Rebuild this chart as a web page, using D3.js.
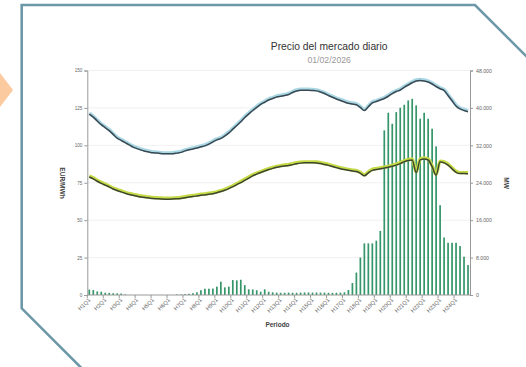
<!DOCTYPE html>
<html><head><meta charset="utf-8">
<script src="https://cdn.jsdelivr.net/npm/d3@7"></script>
<style>html,body{margin:0;padding:0;background:#fff;} svg{display:block;font-family:"Liberation Sans",Arial,sans-serif;}</style>
</head><body><svg id="c" width="526" height="367"></svg>
<script>
const hours = [1,2,3,4,5,6,7,8,9,10,11,12,13,14,15,16,17,18,19,20,21,22,23,24];
const quarters = ["Q1","Q2","Q3","Q4"];
const tickLabels = ["H1Q1","H2Q1","H3Q1","H4Q1","H5Q1","H6Q1","H7Q1","H8Q1","H9Q1","H10Q1","H11Q1","H12Q1",
  "H13Q1","H14Q1","H15Q1","H16Q1","H17Q1","H18Q1","H19Q1","H20Q1","H21Q1","H22Q1","H23Q1","H24Q1"];
const leftTicks = [0,25,50,75,100,125,150];
const rightTicks = [0,8000,16000,24000,32000,40000,48000];

// Precio (EUR/MWh), bars
const priceEUR = [3.6,3.3,2.4,2.2,1.5,1.4,1.2,1.1,1.0,0.4,0,0,
  0,0,0,0,0,0,0,0,0,0,0.4,0.4,
  0.6,0.8,1.2,1.8,3.2,4.2,4.2,4.3,5.6,8.9,5.1,5.6,
  10,9.8,10.2,6.6,3.8,3.7,3.2,2.2,3.8,2.2,1.8,1.6,
  1.5,1.5,1.6,1.5,1.5,1.6,1.7,1.7,1.6,1.7,1.6,1.6,
  1.5,1.4,1.5,1.6,1.8,3.3,8,15,25,34.5,34.5,34.5,
  36.3,42.8,110,121.8,114.4,122.2,125.1,127.1,130,131.1,126.7,117.8,
  121.8,117.8,111.1,99.3,60,38.4,34.9,34.9,34.9,32.7,25.6,20];

// Upper line (MW)
const upperMW = [38720,38080,37280,36480,35840,35200,34400,33600,33120,32640,32160,31680,
  31360,31040,30820,30620,30460,30400,30300,30240,30240,30270,30400,30560,
  30880,31100,31300,31490,31740,31940,32320,32800,33220,33540,34080,34720,
  35520,36320,37120,38020,38780,39520,40160,40800,41280,41760,42080,42400,
  42560,42720,42940,43360,43680,43840,43840,43840,43780,43710,43460,43140,
  42720,42340,41980,41660,41340,41060,40900,40740,40160,39520,40320,41120,
  41440,41760,42080,42560,43140,43580,43900,44480,44960,45440,45820,45920,
  45820,45600,45180,44640,44160,43780,42720,41600,40480,39840,39520,39260];

// Lower line (MW)
const lowerMW = [25280,24900,24380,23940,23550,23170,22720,22400,22110,21820,21570,21380,
  21180,21020,20900,20800,20700,20640,20580,20540,20540,20580,20640,20700,
  20860,21020,21120,21250,21380,21470,21600,21730,21920,22180,22460,22820,
  23230,23680,24100,24580,25060,25540,25920,26240,26560,26880,27140,27360,
  27520,27650,27740,27940,28130,28260,28320,28320,28320,28290,28160,27970,
  27780,27520,27300,27070,26880,26720,26560,26460,26080,25540,26180,26720,
  26880,27040,27200,27360,27580,27840,28160,28540,28800,28930,26180,28960,
  29120,28930,27520,25660,28480,28320,27840,27040,26300,26020,26020,25980];

const categories = hours.flatMap(h => quarters.map(q => "H" + h + q));

const svg = d3.select("#c");

// decorative frame
svg.append("polygon").attr("points","0,73 13,90 0,107").attr("fill","#fcca9f");
svg.append("path").attr("d","M545,75 L475,5 L21.7,5 L21.7,308.3 L85,371.6")
  .attr("fill","none").attr("stroke","#6d98a8").attr("stroke-width",2.6);

const L = 87.3, R = 470, T = 70.5, B = 295;
const x = d3.scaleBand().domain(categories).range([L, R]).padding(0);
const yL = d3.scaleLinear().domain([0,150]).range([B, T]);
const yR = d3.scaleLinear().domain([0,48000]).range([B, T]);
const loc = d3.formatLocale({decimal: ",", thousands: ".", grouping: [3], currency: ["", ""]});
const fmtR = loc.format(",");

// gridlines
svg.append("g").selectAll("line").data(leftTicks.filter(d => d > 0)).join("line")
  .attr("x1", L).attr("x2", R).attr("y1", d => yL(d)).attr("y2", d => yL(d))
  .attr("stroke", "#ececec").attr("stroke-width", 0.8);

// bars
const bw = 1.7;
svg.append("g").selectAll("rect").data(priceEUR).join("rect")
  .attr("x", (d,i) => x(categories[i]) + x.bandwidth()/2 - bw/2)
  .attr("width", bw)
  .attr("y", d => yL(d))
  .attr("height", d => B - yL(d))
  .attr("fill", "#35966a");

// lines
const lineGen = d3.line().x((d,i) => x(categories[i]) + x.bandwidth()/2).y(d => yR(d)).curve(d3.curveMonotoneX);
function glowLine(data, halo, core) {
  svg.append("path").attr("d", lineGen(data)).attr("fill","none")
    .attr("stroke", halo).attr("stroke-width", 3.4).attr("stroke-linejoin","round")
    .attr("transform","translate(0,-0.7)");
  svg.append("path").attr("d", lineGen(data)).attr("fill","none")
    .attr("stroke", core).attr("stroke-width", 1.5).attr("stroke-linejoin","round")
    .attr("transform","translate(0,0.3)");
}
glowLine(upperMW, "#a9d7e4", "#3a4852");
glowLine(lowerMW, "#c6da45", "#3a4530");

// axes
const axisColor = "#999";
const gl = svg.append("g").attr("transform", `translate(${L},0)`)
  .call(d3.axisLeft(yL).tickValues(leftTicks).tickSize(3).tickPadding(2));
gl.selectAll("text").attr("font-size", 4.6).attr("fill", "#666").attr("font-family", "Liberation Sans, Arial, sans-serif");
gl.selectAll("line,path").attr("stroke", axisColor);

const gr = svg.append("g").attr("transform", `translate(${R},0)`)
  .call(d3.axisRight(yR).tickValues(rightTicks).tickSize(3).tickPadding(3).tickFormat(fmtR));
gr.selectAll("text").attr("font-size", 5.2).attr("fill", "#666").attr("font-family", "Liberation Sans, Arial, sans-serif");
gr.selectAll("line,path").attr("stroke", axisColor);

// bottom axis
svg.append("line").attr("x1", L).attr("x2", R).attr("y1", B).attr("y2", B).attr("stroke", axisColor);
svg.append("g").selectAll("line").data(tickLabels).join("line")
  .attr("x1", d => x(d)).attr("x2", d => x(d)).attr("y1", B).attr("y2", B + 3)
  .attr("stroke", axisColor);
svg.append("g").selectAll("text").data(tickLabels).join("text")
  .attr("transform", d => `translate(${x(d) + 2},${B + 4}) rotate(-45)`)
  .attr("text-anchor", "end").attr("dy", "0.35em")
  .attr("font-size", 5.6).attr("fill", "#606060").text(d => d);

// titles
svg.append("text").attr("x", 329.2).attr("y", 50).attr("text-anchor","middle")
  .attr("font-size", 10.3).attr("fill", "#333").text("Precio del mercado diario");
svg.append("text").attr("x", 329.2).attr("y", 63.3).attr("text-anchor","middle")
  .attr("font-size", 8.7).attr("fill", "#999").text("01/02/2026");
svg.append("text").attr("transform", "translate(60,183) rotate(90)").attr("text-anchor","middle")
  .attr("font-size", 6.6).attr("font-weight","bold").attr("fill","#444").text("EUR/MWh");
svg.append("text").attr("transform", "translate(503.5,183) rotate(90)").attr("text-anchor","middle")
  .attr("font-size", 6.6).attr("font-weight","bold").attr("fill","#444").text("MW");
svg.append("text").attr("x", 277.5).attr("y", 327).attr("text-anchor","middle")
  .attr("font-size", 6.5).attr("font-weight","bold").attr("fill","#444").text("Periodo");
</script></body></html>
